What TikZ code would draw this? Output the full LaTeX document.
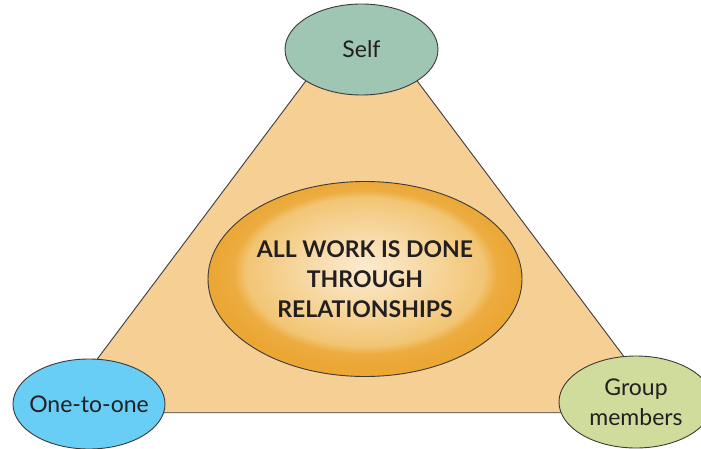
\documentclass[tikz,border=0pt]{standalone}
\usepackage{fontspec}
\setmainfont{Lato}
\usetikzlibrary{shapes.geometric}
\definecolor{tri}{HTML}{F6CF94}
\definecolor{selfc}{HTML}{9FC5B3}
\definecolor{onec}{HTML}{69CEF5}
\definecolor{grpc}{HTML}{D0DC9C}
\definecolor{edge}{HTML}{3A3A3A}
\definecolor{txt}{HTML}{231F20}
\definecolor{glight}{HTML}{FCEBD0}
\definecolor{gmid}{HTML}{F2C574}
\definecolor{gdark}{HTML}{EBA633}
\pgfdeclareradialshading{coreshade}{\pgfpoint{0bp}{3bp}}{%
  color(0bp)=(glight); color(10bp)=(gmid!50!glight); color(19bp)=(gmid); color(21bp)=(gdark!80!gmid); color(25bp)=(gdark); color(50bp)=(gdark)}
\tikzset{
  oval/.style={ellipse, draw=edge, line width=0.9pt, inner xsep=-25pt, inner ysep=0pt, text=txt,
    font=\fontsize{23}{30}\selectfont, align=center},
  outline/.style={draw=edge, line width=0.9pt},
}
\begin{document}
\begin{tikzpicture}[x=1pt,y=-1pt]
\useasboundingbox (0,0) rectangle (701,449);
\clip (0,0) rectangle (701,449);
% triangle
\coordinate (apex) at (361.5,6.7);
\coordinate (bl) at (57,412.7);
\coordinate (br) at (666,412.7);
\filldraw[outline, fill=tri] (apex) -- (br) -- (bl) -- cycle;
% central ellipse
\node[oval, shading=coreshade, minimum width=314pt, minimum height=195pt,
  font=\bfseries\fontsize{23}{30}\selectfont] (core) at (365,279)
  {ALL WORK IS DONE\\THROUGH\\RELATIONSHIPS};
% outer ellipses
\node[oval, fill=selfc, minimum width=153pt, minimum height=91pt] (self) at (361.5,49.5) {Self};
\node[oval, fill=onec, minimum width=152pt, minimum height=90pt] (one) at (89,404) {One-to-one};
\node[oval, fill=grpc, minimum width=154pt, minimum height=92pt] (grp) at (636,402) {Group\\members};
\end{tikzpicture}
\end{document}
